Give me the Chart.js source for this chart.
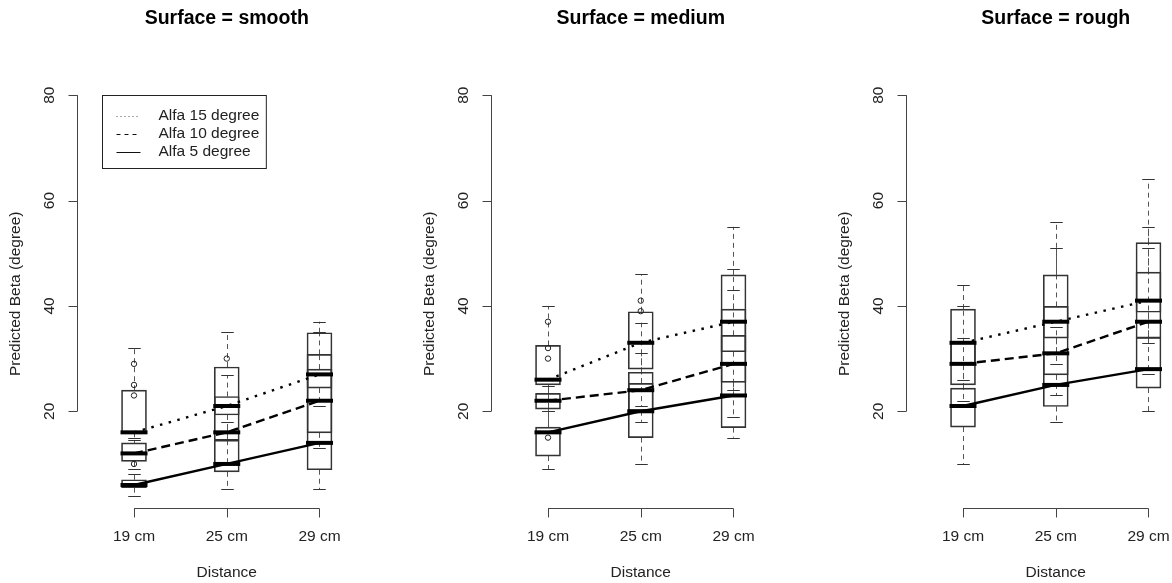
<!DOCTYPE html>
<html>
<head>
<meta charset="utf-8">
<script src="https://cdn.jsdelivr.net/npm/chart.js@4.4.1/dist/chart.umd.min.js"></script>
<style>
  html, body { margin: 0; padding: 0; background: #fff; overflow: hidden; }
  #wrap { position: relative; width: 1172px; height: 583px; overflow: hidden; }
  .panel { position: absolute; top: 0; width: 415px; height: 583px; }
</style>
</head>
<body>
<div id="wrap">
  <div class="panel" style="left:0px"><canvas id="c0" width="415" height="583"></canvas></div>
  <div class="panel" style="left:414px"><canvas id="c1" width="415" height="583"></canvas></div>
  <div class="panel" style="left:829px"><canvas id="c2" width="415" height="583"></canvas></div>
</div>
<script>
// categories / labels
const distances = ["19 cm", "25 cm", "29 cm"];
const surfaces = ["smooth", "medium", "rough"];
const alfaNames = ["Alfa 15 degree", "Alfa 10 degree", "Alfa 5 degree"];
const yTicks = [20, 40, 60, 80];

// box stats per distance: [lower whisker, Q1, median, Q3, upper whisker]
const smooth15 = [[15, 16, 16, 24, 32], [14.5, 19.3, 21, 28.4, 35], [21, 24.4, 27, 34.9, 37]];
const smooth10 = [[9, 10.5, 12, 14, 14.5], [10, 14.5, 16, 22.8, 26.8], [13, 15.9, 22, 30.8, 35]];
const smooth5  = [[4, 5.5, 6, 7, 8], [5.2, 8.5, 10, 14.5, 17.9], [5.2, 8.9, 14, 28, 30.8]];
const medium15 = [[20, 25, 26, 32.5, 40], [21, 28, 33, 38.9, 46], [24, 31.3, 37, 45.9, 55]];
const medium10 = [[17, 20.4, 22, 23.4, 24.8], [18, 20.1, 24, 27.4, 36.8], [19, 25.5, 29, 39.4, 47]];
const medium5  = [[9, 11.5, 16, 17, 20], [10, 15, 20, 25.3, 31], [15, 16.9, 23, 34.4, 43]];
const rough15  = [[26, 29, 33, 39.4, 44], [29, 33.9, 37, 45.9, 56], [33, 38.8, 41, 52, 64]];
const rough10  = [[22, 25, 29, 33, 40], [23, 26.9, 31, 39.9, 51], [27, 33.9, 37, 46.4, 55]];
const rough5   = [[10, 17, 21, 24.4, 34], [18, 20.9, 25, 31, 36], [20, 24.4, 28, 34, 51]];

// outliers per distance
const smooth15Out = [[], [], []];
const smooth10Out = [[23, 25, 29], [], []];
const smooth5Out  = [[10], [30], []];
const medium15Out = [[], [], []];
const medium10Out = [[15, 30, 32, 37], [39, 41], []];
const medium5Out  = [[], [], []];
const rough15Out  = [[], [], []];
const rough10Out  = [[], [], []];
const rough5Out   = [[], [], []];

const panelStats = [[smooth15, smooth10, smooth5], [medium15, medium10, medium5], [rough15, rough10, rough5]];
const panelOut = [[smooth15Out, smooth10Out, smooth5Out], [medium15Out, medium10Out, medium5Out], [rough15Out, rough10Out, rough5Out]];

const FONT = "'Liberation Sans', Arial, Helvetica, sans-serif";
const lineDash = [[2.5, 6.5], [9, 5], []];
const legendDash = [[1, 3], [4, 4], []];
const boxPx = 25;

Chart.defaults.font.family = FONT;

// R style boxplot pieces + axes + legend
const boxExtras = {
  id: 'boxExtras',
  beforeDatasetsDraw(chart, args, opts) {
    const ctx = chart.ctx, x = chart.scales.x, y = chart.scales.y;
    const st = boxPx / 4;
    ctx.save();
    ctx.lineWidth = 1;
    opts.stats.forEach(s => s.forEach((b, i) => {
      const cx = Math.round(x.getPixelForValue(i + 1)) + 0.5;
      ctx.strokeStyle = '#555';
      ctx.setLineDash([5, 4]);
      ctx.beginPath();
      ctx.moveTo(cx, y.getPixelForValue(b[3]));
      ctx.lineTo(cx, y.getPixelForValue(b[4]));
      ctx.moveTo(cx, y.getPixelForValue(b[1]));
      ctx.lineTo(cx, y.getPixelForValue(b[0]));
      ctx.stroke();
      ctx.setLineDash([]);
      ctx.strokeStyle = '#333';
      ctx.beginPath();
      [b[0], b[4]].forEach(v => {
        const py = Math.round(y.getPixelForValue(v)) + 0.5;
        ctx.moveTo(cx - st, py);
        ctx.lineTo(cx + st, py);
      });
      ctx.stroke();
    }));
    ctx.restore();
  },
  afterDatasetsDraw(chart, args, opts) {
    const ctx = chart.ctx, x = chart.scales.x, y = chart.scales.y;
    const area = chart.chartArea;
    ctx.save();
    // medians
    ctx.strokeStyle = '#000';
    ctx.lineWidth = 4;
    opts.stats.forEach(s => s.forEach((b, i) => {
      const cx = x.getPixelForValue(i + 1);
      const py = y.getPixelForValue(b[2]);
      ctx.beginPath();
      ctx.moveTo(cx - boxPx / 2 - 1, py);
      ctx.lineTo(cx + boxPx / 2 + 1, py);
      ctx.stroke();
    }));

    // y axis
    ctx.strokeStyle = '#444';
    ctx.lineWidth = 1;
    const ax = Math.round(area.left) + 0.5;
    ctx.beginPath();
    ctx.moveTo(ax, y.getPixelForValue(yTicks[0]));
    ctx.lineTo(ax, y.getPixelForValue(yTicks[yTicks.length - 1]));
    yTicks.forEach(t => {
      const py = Math.round(y.getPixelForValue(t)) + 0.5;
      ctx.moveTo(ax, py);
      ctx.lineTo(ax - 9, py);
    });
    ctx.stroke();
    ctx.fillStyle = '#222';
    ctx.font = '15.5px ' + FONT;
    ctx.textAlign = 'center';
    ctx.textBaseline = 'middle';
    yTicks.forEach(t => {
      ctx.save();
      ctx.translate(ax - 28, y.getPixelForValue(t));
      ctx.rotate(-Math.PI / 2);
      ctx.fillText(String(t), 0, 0);
      ctx.restore();
    });
    ctx.save();
    ctx.translate(ax - 62, (area.top + area.bottom) / 2);
    ctx.rotate(-Math.PI / 2);
    ctx.fillText('Predicted Beta (degree)', 0, 0);
    ctx.restore();

    // x axis
    const ay = Math.round(area.bottom) + 0.5;
    ctx.beginPath();
    ctx.moveTo(x.getPixelForValue(1), ay);
    ctx.lineTo(x.getPixelForValue(distances.length), ay);
    distances.forEach((d, i) => {
      const px = Math.round(x.getPixelForValue(i + 1)) + 0.5;
      ctx.moveTo(px, ay);
      ctx.lineTo(px, ay + 9);
    });
    ctx.stroke();
    distances.forEach((d, i) => {
      ctx.fillText(d, x.getPixelForValue(i + 1), ay + 28);
    });
    ctx.fillText('Distance', (area.left + area.right) / 2, ay + 64);

    // legend
    if (opts.legend) {
      const lx = Math.round(x.getPixelForValue(0.66)) + 0.5;
      const ty = Math.round(y.getPixelForValue(80)) + 0.5;
      ctx.textAlign = 'left';
      let tw = 0;
      alfaNames.forEach(n => { tw = Math.max(tw, ctx.measureText(n).width); });
      const textX = lx + 56;
      const w = textX - lx + tw + 7;
      const h = 73;
      ctx.strokeStyle = '#222';
      ctx.lineWidth = 1;
      ctx.strokeRect(lx, ty, w, h);
      alfaNames.forEach((n, g) => {
        const ry = ty + 20 + g * 18.2;
        ctx.setLineDash(legendDash[g]);
        ctx.strokeStyle = g === 0 ? '#555' : '#111';
        ctx.beginPath();
        ctx.moveTo(lx + 14, Math.round(ry) + 0.5);
        ctx.lineTo(lx + 38, Math.round(ry) + 0.5);
        ctx.stroke();
        ctx.setLineDash([]);
        ctx.fillText(n, textX, ry);
      });
    }
    ctx.restore();
  }
};

function makePanel(k) {
  const stats = panelStats[k];
  const outs = panelOut[k];
  const datasets = [];
  stats.forEach((s, g) => {
    datasets.push({
      type: 'bar',
      order: 3,
      label: alfaNames[g] + ' box',
      data: s.map((b, i) => ({ x: i + 1, y: [b[1], b[3]] })),
      backgroundColor: 'rgba(0,0,0,0)',
      borderColor: '#333',
      borderWidth: 1,
      borderSkipped: false,
      grouped: false,
      barThickness: boxPx
    });
  });
  stats.forEach((s, g) => {
    datasets.push({
      type: 'line',
      order: 2,
      label: alfaNames[g],
      data: s.map((b, i) => ({ x: i + 1, y: b[2] })),
      borderColor: '#000',
      borderWidth: 2.4,
      borderDash: lineDash[g],
      pointRadius: 0,
      fill: false,
      tension: 0
    });
  });
  outs.forEach((o, g) => {
    datasets.push({
      type: 'scatter',
      order: 1,
      label: alfaNames[g] + ' outliers',
      data: o.flatMap((vals, i) => vals.map(v => ({ x: i + 1, y: v }))),
      pointStyle: 'circle',
      pointRadius: 2.7,
      borderColor: '#222',
      borderWidth: 1,
      backgroundColor: 'rgba(0,0,0,0)'
    });
  });

  new Chart(document.getElementById('c' + k), {
    type: 'scatter',
    data: { datasets: datasets },
    options: {
      responsive: false,
      animation: false,
      layout: { padding: { left: 76.5, right: 38, top: 0, bottom: 74.8 } },
      scales: {
        x: { type: 'linear', min: 0.38, max: 3.62, offset: false, grid: { offset: false }, display: false },
        y: { type: 'linear', min: 1.6, max: 83, display: false }
      },
      plugins: {
        legend: { display: false },
        tooltip: { enabled: false },
        title: {
          display: true,
          text: 'Surface = ' + surfaces[k],
          color: '#000',
          font: { family: FONT, size: 19.5, weight: 'bold' },
          padding: { top: 7, bottom: 49 }
        },
        boxExtras: { stats: stats, legend: k === 0 }
      }
    },
    plugins: [boxExtras]
  });
}

[0, 1, 2].forEach(makePanel);
</script>
</body>
</html>
